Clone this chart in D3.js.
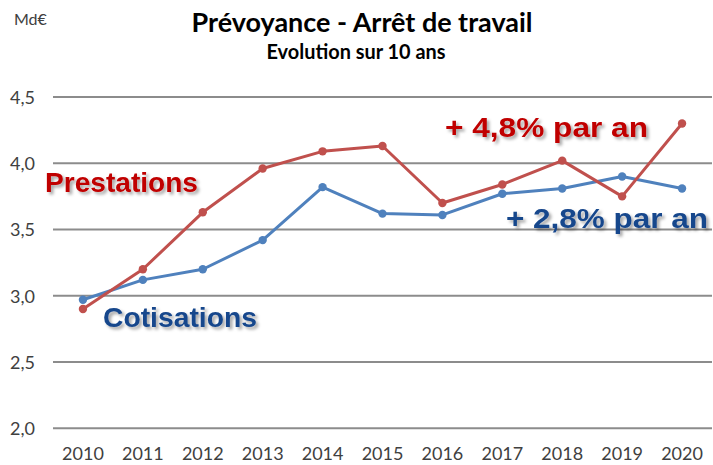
<!DOCTYPE html>
<html><head><meta charset="utf-8">
<script src="https://cdn.jsdelivr.net/npm/d3@7"></script>
<style>body{margin:0;background:#fff;} svg{display:block;}</style>
</head><body>
<script>
const years = ["2010","2011","2012","2013","2014","2015","2016","2017","2018","2019","2020"];
const prestations = [2.90,3.20,3.63,3.96,4.09,4.13,3.70,3.84,4.02,3.75,4.30];
const cotisations = [2.97,3.12,3.20,3.42,3.82,3.62,3.61,3.77,3.81,3.90,3.81];
const yTicks = [2.0,2.5,3.0,3.5,4.0,4.5];
const title = "Prévoyance - Arrêt de travail";
const subtitle = "Evolution sur 10 ans";
const unit = "Md€";

const W = 713, H = 465;
const svg = d3.select("body").append("svg").attr("width", W).attr("height", H);
const defs = svg.append("defs");
const f = defs.append("filter").attr("id","sh").attr("x","-10%").attr("y","-30%").attr("width","130%").attr("height","180%");
f.append("feDropShadow").attr("dx",2.5).attr("dy",2.5).attr("stdDeviation",1.8).attr("flood-color","#000").attr("flood-opacity",0.35);

const x = d3.scaleBand().domain(years).range([53, 712]);
const y = d3.scaleLinear().domain([2.0, 4.5]).range([428.3, 97]);

// gridlines
svg.append("g").selectAll("line").data(yTicks).join("line")
  .attr("x1", 53).attr("x2", 712)
  .attr("y1", d => y(d)).attr("y2", d => y(d))
  .attr("stroke", "#8c8c8c").attr("stroke-width", 2);

// y axis
const yAxis = d3.axisLeft(y).tickValues(yTicks).tickSize(0).tickPadding(0)
  .tickFormat(d => d3.format(".1f")(d).replace(".", ","));
const gy = svg.append("g").attr("transform","translate(35,0)").call(yAxis);
gy.select(".domain").remove();
gy.selectAll("text").attr("font-family","Lato, 'Open Sans', sans-serif").attr("font-size",18).attr("fill","#404040").attr("dy","0.35em");

// x axis
const xAxis = d3.axisBottom(x).tickSize(0).tickPadding(0);
const gx = svg.append("g").attr("transform","translate(0,447)").call(xAxis);
gx.select(".domain").remove();
gx.selectAll("text").attr("font-family","Lato, 'Open Sans', sans-serif").attr("font-size",18).attr("fill","#404040").attr("dy","0.72em");

const cx = d => x(d) + x.bandwidth()/2;
const line = d3.line().x((d,i) => cx(years[i])).y(d => y(d));

function series(vals, color) {
  svg.append("path").datum(vals).attr("d", line)
    .attr("fill","none").attr("stroke", color).attr("stroke-width", 3).attr("stroke-linejoin","round");
  svg.append("g").selectAll("circle").data(vals).join("circle")
    .attr("cx", (d,i) => cx(years[i])).attr("cy", d => y(d)).attr("r", 4.2).attr("fill", color);
}
series(cotisations, "#4f81bd");
series(prestations, "#c0504d");

// titles
svg.append("text").attr("x", 362).attr("y", 32).attr("text-anchor","middle")
  .attr("font-family","Lato, 'Open Sans', sans-serif").attr("font-weight","bold").attr("font-size",26)
  .attr("textLength", 341).attr("lengthAdjust","spacingAndGlyphs").attr("fill","#000").text(title);
svg.append("text").attr("x", 356).attr("y", 59).attr("text-anchor","middle")
  .attr("font-family","Lato, 'Open Sans', sans-serif").attr("font-weight","bold").attr("font-size",20)
  .attr("textLength", 179).attr("lengthAdjust","spacingAndGlyphs").attr("fill","#000").text(subtitle);
svg.append("text").attr("x", 14).attr("y", 25)
  .attr("font-family","Lato, 'Open Sans', sans-serif").attr("font-size",16).attr("fill","#404040").text(unit);

// annotations
function ann(txt, xx, yy, len, color) {
  svg.append("text").attr("x", xx).attr("y", yy)
    .attr("font-family","'Liberation Sans', Arial, sans-serif").attr("font-weight","bold").attr("font-size",28)
    .attr("textLength", len).attr("lengthAdjust","spacingAndGlyphs")
    .attr("fill", color).attr("filter","url(#sh)").text(txt);
}
ann("Prestations", 45, 192, 153, "#c00000");
ann("Cotisations", 103, 327, 154, "#17478c");
ann("+ 4,8% par an", 445, 137, 203, "#c00000");
ann("+ 2,8% par an", 506, 228, 202, "#17478c");
</script>
</body></html>
